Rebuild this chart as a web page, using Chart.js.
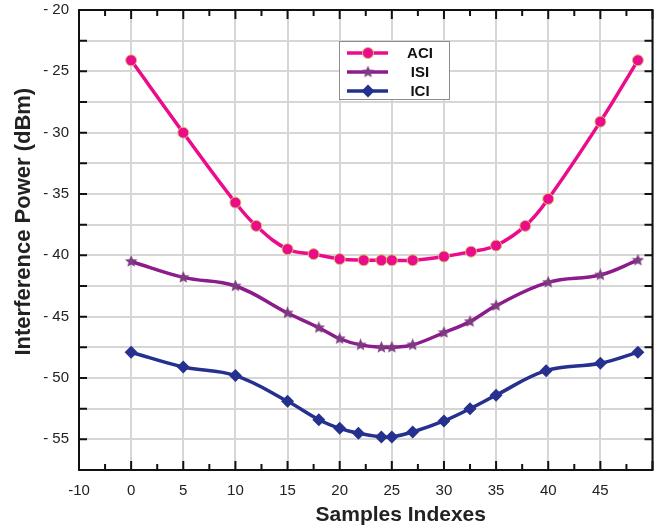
<!DOCTYPE html>
<html lang="en">
<head>
<meta charset="UTF-8">
<title>Interference Power</title>
<script src="https://cdn.jsdelivr.net/npm/chart.js"></script>
<style>
    * { margin: 0; padding: 0; box-sizing: border-box; }
    body { background: #ffffff; width: 662px; height: 530px; overflow: hidden; }
    .chart-container { position: relative; width: 662px; height: 530px; }
</style>
</head>
<body>
<div class="chart-container"><canvas id="powerChart"></canvas></div>
<script>
// values
const aciX = [0, 5, 10, 12, 15, 17.5, 20, 22.3, 24, 25, 27, 30, 32.6, 35, 37.8, 40, 45, 48.6];
const aciY = [-24.1, -30.0, -35.7, -37.6, -39.5, -39.9, -40.3, -40.4, -40.4, -40.4, -40.4, -40.1, -39.7, -39.2, -37.6, -35.4, -29.1, -24.1];
const isiX = [0, 5, 10, 15, 18, 20, 22, 24, 25, 27, 30, 32.5, 35, 40, 45, 48.6];
const isiY = [-40.5, -41.8, -42.5, -44.7, -45.9, -46.8, -47.3, -47.5, -47.5, -47.3, -46.3, -45.4, -44.1, -42.2, -41.6, -40.4];
const iciX = [0, 5, 10, 15, 18, 20, 21.8, 24, 25, 27, 30, 32.5, 35, 39.8, 45, 48.6];
const iciY = [-47.9, -49.1, -49.8, -51.9, -53.4, -54.1, -54.5, -54.8, -54.8, -54.4, -53.5, -52.5, -51.4, -49.4, -48.8, -47.9];
const seriesNames = ['ACI', 'ISI', 'ICI'];
const xTickLabels = ['-10', '0', '5', '10', '15', '20', '25', '30', '35', '40', '45', ''];

const font = "'Liberation Sans', Arial, sans-serif";

function toPoints(xs, ys) {
    return xs.map((x, i) => ({ x: x, y: ys[i] }));
}

function makeStar(size, color) {
    const c = document.createElement('canvas');
    c.width = size;
    c.height = size;
    const g = c.getContext('2d');
    const r = size / 2;
    g.beginPath();
    for (let i = 0; i < 10; i++) {
        const a = -Math.PI / 2 + i * Math.PI / 5;
        const rr = i % 2 ? r * 0.45 : r;
        g.lineTo(r + rr * Math.cos(a), r + rr * Math.sin(a));
    }
    g.closePath();
    g.fillStyle = color;
    g.fill();
    return c;
}

const starImg = makeStar(13, '#7d3b80');

function drawMarker(ctx, ds, x, y) {
    ctx.save();
    ctx.fillStyle = ds.pointBackgroundColor;
    ctx.strokeStyle = ds.pointBorderColor;
    ctx.lineWidth = 1;
    if (ds.pointStyle === 'circle') {
        ctx.beginPath();
        ctx.arc(x, y, ds.pointRadius, 0, Math.PI * 2);
        ctx.fill();
        ctx.stroke();
    } else if (ds.pointStyle === 'rectRot') {
        const r = ds.pointRadius;
        ctx.beginPath();
        ctx.moveTo(x, y - r);
        ctx.lineTo(x + r, y);
        ctx.lineTo(x, y + r);
        ctx.lineTo(x - r, y);
        ctx.closePath();
        ctx.fill();
    } else {
        const img = ds.pointStyle;
        ctx.drawImage(img, x - img.width / 2, y - img.height / 2);
    }
    ctx.restore();
}

// border box, inward tick marks and the legend box
const framePlugin = {
    id: 'frame',
    afterDatasetsDraw(chart) {
        const { ctx, chartArea: a, scales } = chart;
        const xs = scales.x, ys = scales.y;
        ctx.save();
        ctx.strokeStyle = '#111111';
        ctx.lineWidth = 2;
        ctx.strokeRect(a.left, a.top, a.right - a.left, a.bottom - a.top);

        ctx.beginPath();
        for (let v = xs.min; v <= xs.max; v += 2.5) {
            const px = xs.getPixelForValue(v);
            const len = (v % 5 === 0) ? 9 : 6;
            ctx.moveTo(px, a.bottom);
            ctx.lineTo(px, a.bottom - len);
            ctx.moveTo(px, a.top);
            ctx.lineTo(px, a.top + len);
        }
        for (let v = ys.min; v <= ys.max; v += 2.5) {
            const py = ys.getPixelForValue(v);
            ctx.moveTo(a.left, py);
            ctx.lineTo(a.left + 8, py);
            ctx.moveTo(a.right, py);
            ctx.lineTo(a.right - 8, py);
        }
        ctx.stroke();

        // legend
        const box = { left: 339, top: 41, width: 110, height: 58 };
        ctx.fillStyle = '#ffffff';
        ctx.fillRect(box.left, box.top, box.width, box.height);
        ctx.strokeStyle = '#8c8c8c';
        ctx.lineWidth = 1;
        ctx.strokeRect(box.left + 0.5, box.top + 0.5, box.width, box.height);
        chart.data.datasets.forEach((ds, i) => {
            const y = box.top + 12 + i * 19;
            ctx.strokeStyle = ds.borderColor;
            ctx.lineWidth = ds.borderWidth;
            ctx.beginPath();
            ctx.moveTo(box.left + 8, y);
            ctx.lineTo(box.left + 49, y);
            ctx.stroke();
            drawMarker(ctx, ds, box.left + 29, y);
            ctx.fillStyle = '#111111';
            ctx.font = 'bold 15px ' + font;
            ctx.textAlign = 'center';
            ctx.textBaseline = 'middle';
            ctx.fillText(ds.label, box.left + 81, y + 1);
        });
        ctx.restore();
    }
};

const datasets = [
    {
        label: seriesNames[0],
        data: toPoints(aciX, aciY),
        borderColor: '#ec0b8b',
        borderWidth: 3.5,
        pointStyle: 'circle',
        pointRadius: 5.5,
        pointBackgroundColor: '#ec0b8b',
        pointBorderColor: '#d8c46c',
        pointBorderWidth: 1
    },
    {
        label: seriesNames[1],
        data: toPoints(isiX, isiY),
        borderColor: '#8c1c8c',
        borderWidth: 3.5,
        pointStyle: starImg,
        pointRadius: 6,
        pointBackgroundColor: '#7d3b80',
        pointBorderColor: '#7d3b80'
    },
    {
        label: seriesNames[2],
        data: toPoints(iciX, iciY),
        borderColor: '#25308f',
        borderWidth: 3.5,
        pointStyle: 'rectRot',
        pointRadius: 6.5,
        pointBackgroundColor: '#25308f',
        pointBorderColor: '#25308f',
        pointBorderWidth: 0
    }
];

const ctx = document.getElementById('powerChart').getContext('2d');
const powerChart = new Chart(ctx, {
    type: 'line',
    data: { datasets: datasets },
    options: {
        responsive: true,
        maintainAspectRatio: false,
        animation: false,
        layout: { padding: 0 },
        elements: { line: { tension: 0.4 } },
        plugins: {
            legend: { display: false },
            tooltip: { enabled: false }
        },
        scales: {
            x: {
                type: 'linear',
                min: -5,
                max: 50,
                afterFit: scale => {
                    scale.height = 60;
                    scale.paddingLeft = 0;
                    scale.paddingRight = 6;
                },
                grid: { color: '#d6d6d6', lineWidth: 2, drawTicks: false },
                border: { display: false },
                ticks: {
                    stepSize: 5,
                    autoSkip: false,
                    maxRotation: 0,
                    padding: 12,
                    color: '#222222',
                    font: { family: font, size: 15 },
                    callback: (value, index) => xTickLabels[index]
                },
                title: {
                    display: true,
                    text: '            Samples Indexes',
                    color: '#222222',
                    font: { family: font, size: 21, weight: 'bold' },
                    padding: { top: 0, bottom: 2 }
                }
            },
            y: {
                min: -57.5,
                max: -20,
                afterFit: scale => {
                    scale.width = 79;
                    scale.paddingTop = 10;
                    scale.paddingBottom = 0;
                },
                grid: { color: '#d6d6d6', lineWidth: 2, drawTicks: false },
                border: { display: false },
                ticks: {
                    stepSize: 2.5,
                    autoSkip: false,
                    padding: 10,
                    color: '#222222',
                    font: { family: font, size: 15 },
                    callback: value => (value % 5 === 0 ? '- ' + Math.abs(value) : '')
                },
                title: {
                    display: true,
                    text: '      Interference Power (dBm)',
                    color: '#222222',
                    font: { family: font, size: 22, weight: 'bold' },
                    padding: { top: 11, bottom: 0 }
                }
            }
        }
    },
    plugins: [framePlugin]
});
</script>
</body>
</html>
